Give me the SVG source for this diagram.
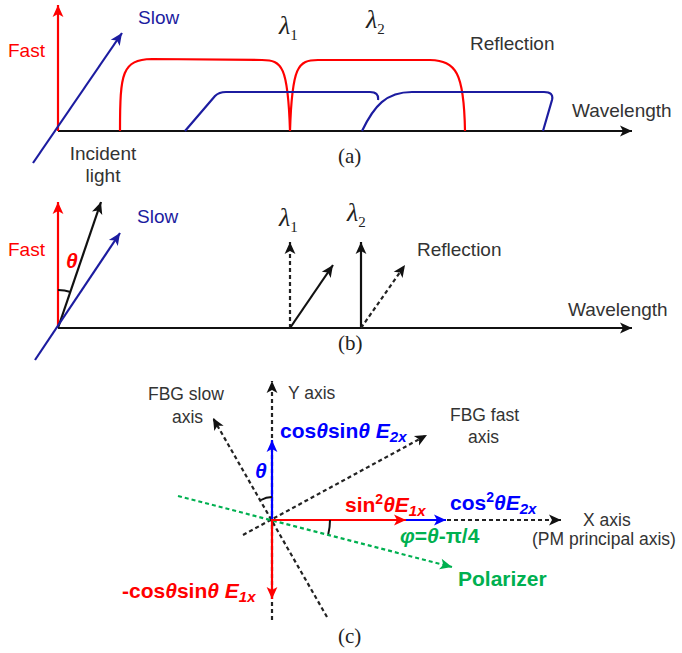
<svg xmlns="http://www.w3.org/2000/svg" width="682" height="653" viewBox="0 0 682 653">
<style>
.sans{font-family:"Liberation Sans",Arial,sans-serif}
.lbl{font-family:"Liberation Sans",Arial,sans-serif;font-size:19px;fill:#333}
.lblc{font-family:"Liberation Sans",Arial,sans-serif;font-size:17.5px;fill:#333}
.bold{font-family:"Liberation Sans",Arial,sans-serif;font-weight:bold;font-size:21px}
.it{font-style:italic}
.cap{font-family:"Liberation Serif","Times New Roman",serif;font-size:21px;fill:#222}
.lam{font-family:"Liberation Serif","Times New Roman",serif;font-style:italic;font-size:26px;fill:#222}
.sub{font-style:normal;font-size:15px}
.ln{fill:none;stroke-width:2.2}
.dash{fill:none;stroke:#222;stroke-width:2.2;stroke-dasharray:4 3}
</style>
<defs>
<marker id="mBk" viewBox="0 0 10 10" refX="10" refY="5" markerWidth="14" markerHeight="12" markerUnits="userSpaceOnUse" orient="auto"><path d="M0,0.5 L10,5 L0,9.5 L2.5,5 z" fill="#111"/></marker>
<marker id="mR" viewBox="0 0 10 10" refX="10" refY="5" markerWidth="14" markerHeight="12" markerUnits="userSpaceOnUse" orient="auto"><path d="M0,0.5 L10,5 L0,9.5 L2.5,5 z" fill="#f00"/></marker>
<marker id="mN" viewBox="0 0 10 10" refX="10" refY="5" markerWidth="14" markerHeight="12" markerUnits="userSpaceOnUse" orient="auto"><path d="M0,0.5 L10,5 L0,9.5 L2.5,5 z" fill="#1c1ca0"/></marker>
<marker id="mB" viewBox="0 0 10 10" refX="10" refY="5" markerWidth="14" markerHeight="12" markerUnits="userSpaceOnUse" orient="auto"><path d="M0,0.5 L10,5 L0,9.5 L2.5,5 z" fill="#0000ff"/></marker>
<marker id="mG" viewBox="0 0 10 10" refX="10" refY="5" markerWidth="14" markerHeight="12" markerUnits="userSpaceOnUse" orient="auto"><path d="M0,0.5 L10,5 L0,9.5 L2.5,5 z" fill="#00b050"/></marker>
</defs>

<!-- Panel (a) -->
<g id="panel-a">
  <g id="a-connectors">
    <line x1="58" y1="131" x2="632" y2="131" class="ln" stroke="#111" stroke-width="2.5" marker-end="url(#mBk)"/>
    <line x1="58" y1="131" x2="58" y2="5" class="ln" stroke="#f00" marker-end="url(#mR)"/>
    <line x1="33" y1="163" x2="122" y2="33" class="ln" stroke="#1c1ca0" marker-end="url(#mN)"/>
    <path d="M120,131 C120,72 122,60 152,59 L262,60 C282,60 288,66 290,131 C292,66 298,60 318,60 L430,60 C456,61 464,72 465,131" class="ln" stroke="#f00"/>
    <path d="M185,131 L215,96 Q219,92 226,92 L370,92 Q379,92 378,100" class="ln" stroke="#1c1ca0"/>
    <path d="M362,131 C374,106 386,92 412,92 L544,92 Q554,92 552,100 L543,131" class="ln" stroke="#1c1ca0"/>
  </g>
  <text x="8" y="57" class="sans" font-size="19" fill="#f00">Fast</text>
  <text x="138" y="24" class="sans" font-size="19" fill="#1c1ca0">Slow</text>
  <text x="279" y="34" class="lam">λ<tspan class="sub" dy="6">1</tspan></text>
  <text x="366" y="28" class="lam">λ<tspan class="sub" dy="6">2</tspan></text>
  <text x="470" y="50" class="lbl">Reflection</text>
  <text x="572" y="117" class="lbl">Wavelength</text>
  <text x="103" y="160" class="lbl" font-size="17" text-anchor="middle">Incident</text>
  <text x="103" y="182" class="lbl" font-size="17" text-anchor="middle">light</text>
  <text x="338" y="163" class="cap">(a)</text>
</g>

<!-- Panel (b) -->
<g id="panel-b">
  <g id="b-connectors">
    <line x1="58" y1="328" x2="632" y2="328" class="ln" stroke="#111" stroke-width="2.5" marker-end="url(#mBk)"/>
    <line x1="58" y1="328" x2="58" y2="202" class="ln" stroke="#f00" marker-end="url(#mR)"/>
    <line x1="58" y1="328" x2="101" y2="202" class="ln" stroke="#111" marker-end="url(#mBk)"/>
    <line x1="35" y1="360" x2="120" y2="233" class="ln" stroke="#1c1ca0" marker-end="url(#mN)"/>
    <path d="M58,290 A38,38 0 0 1 70.5,292" fill="none" stroke="#111" stroke-width="2"/>
    <line x1="290" y1="328" x2="290" y2="242" class="dash" stroke="#111" marker-end="url(#mBk)"/>
    <line x1="290" y1="328" x2="333" y2="265" class="ln" stroke="#111" marker-end="url(#mBk)"/>
    <line x1="361" y1="328" x2="361" y2="242" class="ln" stroke="#111" marker-end="url(#mBk)"/>
    <line x1="361" y1="328" x2="405" y2="265" class="dash" stroke="#111" marker-end="url(#mBk)"/>
  </g>
  <text x="8" y="256" class="sans" font-size="19" fill="#f00">Fast</text>
  <text x="137" y="223" class="sans" font-size="19" fill="#1c1ca0">Slow</text>
  <text x="66" y="268" class="bold it" font-size="18" fill="#f00">θ</text>
  <text x="279" y="226" class="lam">λ<tspan class="sub" dy="6">1</tspan></text>
  <text x="347" y="221" class="lam">λ<tspan class="sub" dy="6">2</tspan></text>
  <text x="417" y="256" class="lbl">Reflection</text>
  <text x="568" y="316" class="lbl">Wavelength</text>
  <text x="338" y="350" class="cap">(b)</text>
</g>

<!-- Panel (c) -->
<g id="panel-c">
  <g id="c-connectors">
    <line x1="272" y1="620" x2="272" y2="381" class="dash" marker-end="url(#mBk)"/>
    <line x1="327" y1="617" x2="213" y2="418" class="dash" marker-end="url(#mBk)"/>
    <line x1="243" y1="535" x2="427" y2="435" class="dash" marker-end="url(#mBk)"/>
    <line x1="272" y1="520" x2="561" y2="520" class="dash" marker-end="url(#mBk)"/>
    <line x1="178" y1="496" x2="452" y2="567" class="dash" style="stroke:#00b050" marker-end="url(#mG)"/>
    <line x1="272" y1="520" x2="272" y2="440" class="ln" stroke="#0000ff" marker-end="url(#mB)"/>
    <line x1="272" y1="519" x2="272" y2="599" class="ln" stroke="#f00" marker-end="url(#mR)"/>
    <line x1="406" y1="520" x2="446" y2="520" class="ln" stroke="#0000ff" marker-end="url(#mB)"/>
    <line x1="272" y1="520" x2="406" y2="520" class="ln" stroke="#f00" marker-end="url(#mR)"/>
    <path d="M272,497 A22,22 0 0 0 261,500" fill="none" stroke="#111" stroke-width="2"/>
    <path d="M330,520 A58,58 0 0 1 328.3,534" fill="none" stroke="#111" stroke-width="2"/>
  </g>
  <g id="n-slow"><text x="148" y="400" class="lblc" font-size="18">FBG slow</text><text x="172" y="423" class="lblc" font-size="18">axis</text></g>
  <g id="n-y"><text x="288" y="399" class="lblc" font-size="18">Y axis</text></g>
  <g id="n-fast"><text x="450" y="421" class="lblc" font-size="18">FBG fast</text><text x="468" y="443" class="lblc" font-size="18">axis</text></g>
  <g id="n-x"><text x="583" y="526" class="lblc" font-size="18">X axis</text><text x="532" y="545" class="lblc">(PM principal axis)</text></g>
  <text x="280" y="438" class="bold" fill="#0000ff">cos<tspan class="it">θ</tspan>sin<tspan class="it">θ</tspan> <tspan class="it">E</tspan><tspan class="it" font-size="15" dy="4">2x</tspan></text>
  <text x="255" y="478" class="bold it" fill="#0000ff">θ</text>
  <text x="345" y="512" class="bold" fill="#f00">sin<tspan font-size="14" dy="-8">2</tspan><tspan class="it" dy="8">θE</tspan><tspan class="it" font-size="15" dy="4">1x</tspan></text>
  <text x="450" y="510" class="bold" fill="#0000ff">cos<tspan font-size="14" dy="-8">2</tspan><tspan class="it" dy="8">θE</tspan><tspan class="it" font-size="15" dy="4">2x</tspan></text>
  <text x="400" y="543" class="bold" fill="#00b050"><tspan class="it">φ</tspan>=<tspan class="it">θ</tspan>-π/4</text>
  <text x="458" y="586" class="bold" fill="#00b050">Polarizer</text>
  <text x="122" y="598" class="bold" fill="#f00">-cos<tspan class="it">θ</tspan>sin<tspan class="it">θ</tspan> <tspan class="it">E</tspan><tspan class="it" font-size="15" dy="4">1x</tspan></text>
  <text x="338" y="643" class="cap">(c)</text>
</g>
</svg>
